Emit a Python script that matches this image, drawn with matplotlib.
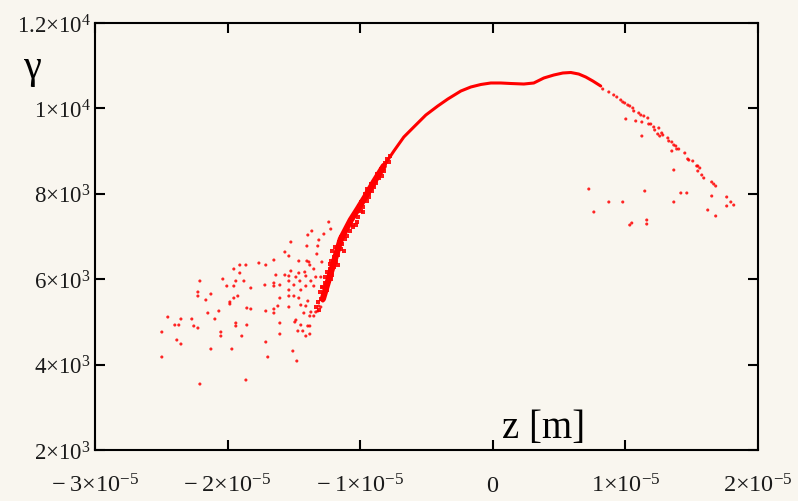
import matplotlib
matplotlib.use('Agg')
import numpy as np
import matplotlib.pyplot as plt

# Main beam curve (z in micrometres, gamma)
core_z_um = [-12.82, -12.37, -11.91, -11.46, -10.71, -10.18, -9.58, -8.97, -8.22, -7.46,
             -6.71, -5.96, -5.05, -4.15, -3.39, -2.41, -1.66, -0.90, -0.15, 0.60,
             1.36, 2.34, 3.09, 3.85, 4.60, 5.28, 5.88, 6.48, 7.01, 7.54, 8.14]
core_gamma = [5536, 6004, 6473, 6941, 7386, 7644, 7948, 8276, 8651, 9002,
              9330, 9564, 9845, 10056, 10220, 10407, 10501, 10560, 10595, 10595,
              10583, 10571, 10595, 10712, 10782, 10829, 10841, 10805, 10735, 10642, 10524]

# Dense band around the rising edge
band_z_um = [-7.99, -7.77, -8.14, -7.84, -8.75, -8.44, -8.22, -8.60, -8.90, -8.37,
             -9.50, -9.20, -8.97, -9.35, -9.65, -8.82, -9.12, -9.95, -9.73, -10.10,
             -9.50, -9.80, -9.35, -10.71, -10.41, -10.18, -10.56, -9.95, -10.86, -10.25,
             -9.80, -11.31, -11.08, -10.78, -11.46, -10.56, -11.01, -10.33, -11.91, -11.61,
             -11.39, -11.76, -11.16, -12.14, -11.46, -12.21, -11.99, -11.69, -12.29, -11.23,
             -11.84, -12.52, -12.29, -11.99, -12.67, -12.14, -11.69, -12.89, -12.67, -12.37,
             -13.04, -12.52, -12.21, -13.20, -12.97, -13.35, -12.82, -13.12]
band_gamma = [8815, 8885, 8721, 8745, 8463, 8581, 8534, 8370, 8323, 8417,
              8112, 8229, 8159, 8019, 7995, 8253, 8065, 7808, 7878, 7714,
              7831, 7691, 7925, 7363, 7527, 7456, 7269, 7597, 7292, 7339,
              7574, 7058, 7175, 7129, 6988, 7222, 7011, 7269, 6754, 6871,
              6824, 6684, 6941, 6660, 6707, 6426, 6520, 6566, 6356, 6660,
              6403, 6168, 6239, 6285, 6051, 6098, 6332, 5817, 5911, 5958,
              5700, 5747, 6004, 5466, 5536, 5349, 5630, 5278]

# Scattered low-energy particles (left)
halo_z_um = [-24.96, -24.96, -24.51, -23.98, -23.68, -23.52, -23.83, -23.52, -22.70, -22.55,
             -22.24, -22.24, -22.24, -22.09, -21.64, -21.49, -21.26, -21.26, -22.09, -20.96,
             -20.66, -20.51, -20.51, -20.36, -20.06, -19.83, -19.83, -19.68, -19.53, -19.53,
             -19.53, -19.38, -19.38, -19.38, -19.23, -19.08, -19.08, -18.93, -18.77, -18.62,
             -18.62, -18.55, -18.55, -18.25, -18.25, -17.64, -17.19, -17.12, -17.12, -17.12,
             -16.97, -16.51, -16.51, -16.51, -16.51, -16.51, -16.36, -16.21, -16.06, -16.06,
             -16.06, -16.06, -15.08, -14.78, -15.68, -15.38, -15.23, -15.68, -15.38, -15.23,
             -15.38, -15.38, -15.38, -15.38, -15.00, -15.00, -14.85, -14.63, -14.63, -14.55,
             -14.48, -14.63, -14.48, -14.85, -14.93, -14.70, -14.48, -14.33, -14.25, -14.10,
             -14.02, -13.95, -13.65, -14.02, -13.87, -13.80, -14.18, -14.10, -13.72, -13.95,
             -14.10, -13.72, -13.80, -13.95, -13.80, -13.80, -14.10, -13.50, -13.35, -13.20,
             -13.50, -13.35, -13.50, -13.27, -13.20, -13.12, -12.74, -12.37, -12.22, -12.89,
             -12.97, -12.89, -12.82, -13.12, -12.97]
halo_gamma = [4763, 4178, 5114, 4927, 4927, 5068, 4576, 4482, 5068, 4904,
              4857, 5700, 5606, 5958, 5513, 5208, 5653, 4365, 3545, 5068,
              5255, 4763, 4669, 6004, 5840, 5466, 5419, 4365, 6239, 5840,
              5559, 5958, 4974, 4904, 5606, 6332, 6145, 4669, 5958, 6332,
              3639, 5325, 4927, 5794, 5302, 6379, 5864, 6332, 5255, 4529,
              4178, 6449, 5911, 5840, 5302, 5208, 6098, 5372, 5864, 5559,
              4974, 4716, 4318, 4084, 6637, 6543, 6871, 6098, 6075, 6192,
              5958, 5747, 5606, 5349, 5864, 5606, 6051, 6426, 6145, 5958,
              5747, 5559, 5395, 5044, 4997, 4787, 4927, 4787, 5208, 5840,
              6777, 7035, 7129, 6426, 6403, 6332, 6168, 6075, 5958, 5489,
              5372, 5232, 5138, 4904, 4904, 4716, 4669, 5138, 5232, 5255,
              5840, 6051, 6239, 6590, 6777, 6918, 7058, 7339, 7175, 6403,
              6051, 5817, 5489, 5372, 5349]

# Falling edge (right side of the bunch)
tail_z_um = [8.29, 8.75, 9.12, 9.35, 9.65, 9.80, 9.95, 10.18, 10.33, 10.56,
             10.63, 11.01, 11.16, 11.39, 11.69, 11.76, 11.91, 12.14, 12.21, 12.52,
             12.44, 12.74, 12.59, 12.82, 13.20, 13.27, 13.50, 13.65, 13.80, 13.87,
             14.02, 14.48, 14.70, 14.78, 15.08, 15.38, 15.46, 15.61, 15.46, 15.76,
             15.91, 16.51, 16.66, 16.81]
tail_gamma = [10454, 10384, 10314, 10267, 10197, 10150, 10126, 10079, 10056, 10009,
              9939, 9892, 9845, 9822, 9775, 9634, 9634, 9564, 9494, 9541,
              9400, 9424, 9353, 9377, 9307, 9236, 9213, 9143, 9119, 9049,
              9049, 8955, 8815, 8791, 8768, 8651, 8651, 8604, 8534, 8440,
              8370, 8276, 8229, 8182]

# Scattered particles (right)
right_z_um = [10.03, 10.78, 11.24, 11.24, 13.50, 13.65, 7.24, 7.62, 8.75, 9.80,
              10.33, 10.48, 11.46, 11.61, 11.61, 13.65, 14.18, 14.63, 16.21, 16.81,
              16.51, 17.64, 17.64, 17.95, 18.17]
right_gamma = [9752, 9705, 9681, 9353, 9002, 8557, 8112, 7574, 7808, 7808,
               7269, 7316, 8065, 7386, 7292, 7808, 8019, 8019, 7620, 7480,
               7948, 7925, 7714, 7808, 7737]

x_ticks = [-3e-5, -2e-5, -1e-5, 0, 1e-5, 2e-5]
x_labels = [r'$-\;3{\times}10^{-5}$', r'$-\;2{\times}10^{-5}$', r'$-\;1{\times}10^{-5}$',
            r'$0$', r'$1{\times}10^{-5}$', r'$2{\times}10^{-5}$']
y_ticks = [2000, 4000, 6000, 8000, 10000, 12000]
y_labels = [r'$2{\times}10^{3}$', r'$4{\times}10^{3}$', r'$6{\times}10^{3}$',
            r'$8{\times}10^{3}$', r'$1{\times}10^{4}$', r'$1.2{\times}10^{4}$']

plt.rcParams['mathtext.fontset'] = 'custom'
plt.rcParams['mathtext.rm'] = 'Liberation Serif'
plt.rcParams['mathtext.it'] = 'Liberation Serif:italic'
plt.rcParams['mathtext.default'] = 'rm'

bg = '#f9f6ef'
fig = plt.figure(figsize=(7.98, 5.02), dpi=100, facecolor=bg)
ax = fig.add_axes([95/798, 51/502, 663/798, 427/502], facecolor=bg)

um = 1e-6
red = '#ff0000'
zc = np.array(core_z_um)*um
ax.plot(zc, core_gamma, color=red, lw=2.2, solid_capstyle='round', solid_joinstyle='round')
# thicker, denser lower part of the rising edge
ax.plot(zc[:9], core_gamma[:9], color=red, lw=4.5, solid_capstyle='round', solid_joinstyle='round')
ax.scatter(np.array(band_z_um)*um, band_gamma, s=9, marker='s', color=red,
           edgecolors='none', alpha=0.9)
for zz, gg in [(halo_z_um, halo_gamma), (tail_z_um, tail_gamma), (right_z_um, right_gamma)]:
    ax.scatter(np.array(zz)*um, gg, s=5, marker='o', color=red, edgecolors='none', alpha=0.85)

ax.set_xlim(-3e-5, 2e-5)
ax.set_ylim(2000, 12000)
ax.set_xticks(x_ticks)
ax.set_xticklabels(x_labels, fontsize=17.5, color='#1a1a1a')
ax.set_yticks(y_ticks)
ax.set_yticklabels(y_labels, fontsize=16.5, color='#1a1a1a')
ax.tick_params(direction='in', length=7.5, width=1.5, top=True, right=True)
ax.tick_params(axis='x', pad=16)
ax.tick_params(axis='y', pad=3)
for s in ax.spines.values():
    s.set_linewidth(1.5)
    s.set_color('black')

fig.text(32/798, 1-78/502, r'$\gamma$', fontsize=29, ha='center', va='baseline')
fig.text(502/798, 1-438/502, 'z [m]', fontsize=28, family='Liberation Serif',
         ha='left', va='baseline')

fig.savefig('out.png', dpi=100, facecolor=bg)
